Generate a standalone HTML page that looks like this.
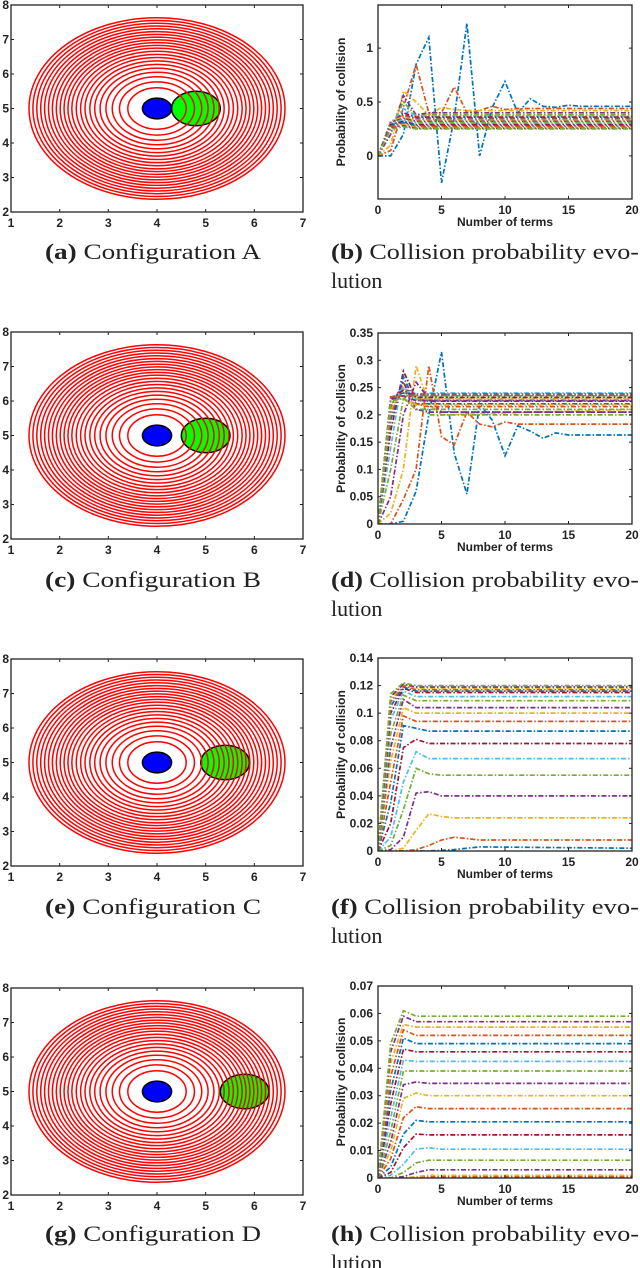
<!DOCTYPE html>
<html><head><meta charset="utf-8"><style>
html,body{margin:0;padding:0;background:#fff;}
svg{display:block;}
.tk{font-family:"Liberation Sans",sans-serif;font-weight:bold;font-size:12px;fill:#222;}
.tl{font-family:"Liberation Sans",sans-serif;font-weight:bold;font-size:12px;fill:#222;}
.cap{font-family:"Liberation Serif",serif;font-size:22px;fill:#222;}
</style></head><body>
<svg id="fig" width="640" height="1268" viewBox="0 0 640 1268" xmlns="http://www.w3.org/2000/svg"></svg>
<script>
// ---------- data ----------
const ringRadii = [0.6,0.77,0.92,1.05,1.17,1.28,1.38,1.48,1.57,1.66,1.75,1.83,1.91,1.99,2.07,2.15,2.23,2.31,2.39,2.47,2.55,2.63];
const configNames = ["A","B","C","D"];
const greenCenters = [4.8,5.0,5.4,5.8];
const blueCenter = [4,5];
const blueRadius = [0.3,0.3];
const greenRadius = [0.5,0.5];
const leftXTicks = [1,2,3,4,5,6,7];
const leftYTicks = [2,3,4,5,6,7,8];
const colors = ["#0072BD","#D95319","#EDB120","#7E2F8E","#77AC30","#4DBEEE","#A2142F"];
const xTicks = [0,5,10,15,20];

// chart A (b)
const aFullX = [0,1,2,3,4,5,6,7,8,9,10,11,12,13,14,15,16,17,18,19,20];
const aShortX = [0,1,2,3,4,20];
const aFullY = [
 [0,0,0.2,0.85,1.1,-0.25,0.35,1.23,0,0.45,0.69,0.4,0.53,0.46,0.45,0.47,0.46,0.46,0.46,0.46,0.46],
 [0,0.05,0.45,0.85,0.4,0.4,0.64,0.4,0.42,0.46,0.43,0.44,0.44,0.44,0.44,0.44,0.44,0.44,0.44,0.44,0.44],
 [0,0.1,0.6,0.5,0.38,0.45,0.43,0.42,0.42,0.42,0.42,0.42,0.42,0.42,0.42,0.42,0.42,0.42,0.42,0.42,0.42]
];
const aShortY = [
 [0,0.2,0.56,0.38,0.4,0.4],[0,0.25,0.5,0.37,0.38,0.38],[0,0.28,0.44,0.37,0.37,0.37],
 [0,0.3,0.4,0.36,0.36,0.36],[0,0.31,0.38,0.35,0.35,0.35],[0,0.32,0.37,0.34,0.34,0.34],
 [0,0.32,0.36,0.33,0.33,0.33],[0,0.31,0.35,0.32,0.32,0.32],[0,0.3,0.34,0.31,0.31,0.31],
 [0,0.3,0.33,0.3,0.3,0.3],[0,0.29,0.32,0.29,0.29,0.29],[0,0.28,0.31,0.28,0.28,0.28],
 [0,0.27,0.3,0.27,0.27,0.27],[0,0.26,0.29,0.26,0.26,0.26],[0,0.26,0.28,0.255,0.255,0.255],
 [0,0.25,0.27,0.25,0.25,0.25]
];
const aYTicks = [0,0.5,1]; const aYLabels = ["0","0.5","1"];

// chart B (d)
const bFullX = [0,1,2,3,4,5,6,7,8,9,10,11,12,13,14,15,16,17,18,19,20];
const bShortX = [0,1,2,3,4,5,20];
const bFullY = [
 [0,0,0.005,0.06,0.2,0.315,0.13,0.055,0.22,0.19,0.125,0.18,0.17,0.157,0.167,0.163,0.163,0.163,0.163,0.163,0.163],
 [0,0,0.045,0.1,0.29,0.16,0.145,0.205,0.183,0.178,0.187,0.183,0.183,0.183,0.183,0.183,0.183,0.183,0.183,0.183,0.183]
];
const bShortY = [
 [0,0.02,0.1,0.29,0.22,0.2,0.21],[0,0.05,0.2,0.26,0.23,0.205,0.205],[0,0.1,0.23,0.24,0.2,0.2,0.2],
 [0,0.14,0.28,0.23,0.24,0.24,0.24],[0,0.17,0.28,0.23,0.225,0.225,0.225],[0,0.19,0.27,0.22,0.22,0.22,0.22],
 [0,0.2,0.26,0.22,0.215,0.215,0.215],[0,0.21,0.25,0.23,0.23,0.23,0.23],[0,0.215,0.26,0.21,0.205,0.205,0.205],
 [0,0.22,0.24,0.235,0.235,0.235,0.235],[0,0.225,0.25,0.228,0.228,0.228,0.228],[0,0.23,0.245,0.232,0.232,0.232,0.232],
 [0,0.232,0.24,0.238,0.238,0.238,0.238],[0,0.233,0.235,0.236,0.236,0.236,0.236],[0,0.225,0.23,0.218,0.218,0.218,0.218],
 [0,0.228,0.235,0.226,0.226,0.226,0.226],[0,0.226,0.23,0.21,0.21,0.21,0.21]
];
const bYTicks = [0,0.05,0.1,0.15,0.2,0.25,0.3,0.35]; const bYLabels = ["0","0.05","0.1","0.15","0.2","0.25","0.3","0.35"];

// chart C (f)
const cX = [0,1,2,3,4,5,6,8,20];
const cY = [
 [0,0,0,0,0,0.0005,0.001,0.003,0.002],[0,0,0,0.001,0.004,0.008,0.01,0.008,0.008],
 [0,0,0.002,0.015,0.027,0.025,0.024,0.024,0.024],[0,0.001,0.01,0.042,0.043,0.04,0.04,0.04,0.04],
 [0,0.004,0.03,0.06,0.056,0.055,0.055,0.055,0.055],[0,0.01,0.05,0.072,0.067,0.067,0.067,0.067,0.067],
 [0,0.02,0.075,0.081,0.078,0.078,0.078,0.078,0.078],[0,0.035,0.091,0.089,0.087,0.087,0.087,0.087,0.087],
 [0,0.05,0.098,0.094,0.094,0.094,0.094,0.094,0.094],[0,0.065,0.104,0.1,0.1,0.1,0.1,0.1,0.1],
 [0,0.075,0.11,0.104,0.104,0.104,0.104,0.104,0.104],[0,0.085,0.113,0.109,0.109,0.109,0.109,0.109,0.109],
 [0,0.095,0.116,0.112,0.112,0.112,0.112,0.112,0.112],[0,0.1,0.118,0.115,0.115,0.115,0.115,0.115,0.115],
 [0,0.105,0.119,0.116,0.116,0.116,0.116,0.116,0.116],[0,0.108,0.12,0.117,0.117,0.117,0.117,0.117,0.117],
 [0,0.11,0.121,0.118,0.118,0.118,0.118,0.118,0.118],[0,0.112,0.121,0.119,0.119,0.119,0.119,0.119,0.119],
 [0,0.114,0.122,0.12,0.12,0.12,0.12,0.12,0.12]
];
const cYTicks = [0,0.02,0.04,0.06,0.08,0.1,0.12,0.14]; const cYLabels = ["0","0.02","0.04","0.06","0.08","0.1","0.12","0.14"];

// chart D (h)
const dX = [0,1,2,3,4,5,20];
const dY = [
 [0,0,0,0,0,0.0002,0.0002],[0,0,0,0.0003,0.0005,0.0005,0.0005],[0,0,0,0.0005,0.001,0.001,0.001],
 [0,0,0.0005,0.002,0.003,0.003,0.003],[0,0,0.002,0.0055,0.0065,0.0065,0.0065],[0,0.001,0.005,0.0105,0.011,0.0105,0.0105],
 [0,0.002,0.011,0.016,0.0157,0.0157,0.0157],[0,0.004,0.016,0.021,0.0205,0.0205,0.0205],[0,0.007,0.022,0.026,0.0253,0.0253,0.0253],
 [0,0.01,0.029,0.031,0.03,0.03,0.03],[0,0.013,0.034,0.035,0.0345,0.0345,0.0345],[0,0.017,0.039,0.039,0.039,0.039,0.039],
 [0,0.022,0.043,0.0425,0.0425,0.0425,0.0425],[0,0.027,0.047,0.046,0.046,0.046,0.046],[0,0.032,0.051,0.049,0.049,0.049,0.049],
 [0,0.037,0.054,0.052,0.052,0.052,0.052],[0,0.042,0.056,0.055,0.055,0.055,0.055],[0,0.046,0.059,0.057,0.057,0.057,0.057],
 [0,0.049,0.061,0.059,0.059,0.059,0.059]
];
const dYTicks = [0,0.01,0.02,0.03,0.04,0.05,0.06,0.07]; const dYLabels = ["0","0.01","0.02","0.03","0.04","0.05","0.06","0.07"];

// ---------- drawing ----------
const NS = "http://www.w3.org/2000/svg";
const fig = document.getElementById('fig');
function el(tag, attrs, parent){ const e=document.createElementNS(NS,tag); for(const k in attrs) e.setAttribute(k,attrs[k]); (parent||fig).appendChild(e); return e; }

const leftTops = [5,332,659,988], leftH = 207, leftL = 11, leftR = 303;
const rightTops = [5,333,658,986], rightBots = [199,524,851,1178], rightL = 378, rightR = 632;
const capY = [259,587,914,1241];
const letters = [["a","b"],["c","d"],["e","f"],["g","h"]];

for(let r=0;r<4;r++){
  const top=leftTops[r], bot=top+leftH;
  const sx = v => leftL + (v-1)*(leftR-leftL)/6;
  const sy = v => bot - (v-2)*leftH/6;
  const g = el('g',{});
  
  
  const gr = el('ellipse',{cx:sx(greenCenters[r]),cy:sy(5),rx:greenRadius[0]*(leftR-leftL)/6,ry:greenRadius[1]*leftH/6,fill:'#00ff00',stroke:'#000','stroke-width':1.5},g);
   
  const bl = el('ellipse',{cx:sx(blueCenter[0]),cy:sy(blueCenter[1]),rx:blueRadius[0]*(leftR-leftL)/6,ry:blueRadius[1]*leftH/6,fill:'#0000ff',stroke:'#000','stroke-width':1.5},g);
   
  ringRadii.forEach(rad=>{
    const e = el('ellipse',{cx:sx(4),cy:sy(5),rx:rad*(leftR-leftL)/6,ry:rad*leftH/6,fill:'none',stroke:'#ff0000','stroke-width':1.5},g);
     
  });
  const box = el('rect',{x:leftL,y:top,width:leftR-leftL,height:leftH,fill:'none',stroke:'#222','stroke-width':1.3},g);
   
  leftXTicks.forEach(t=>{
    el('line',{x1:sx(t),x2:sx(t),y1:bot,y2:bot-3,stroke:'#222'},g);
    el('line',{x1:sx(t),x2:sx(t),y1:top,y2:top+3,stroke:'#222'},g);
    const tx = el('text',{x:sx(t),y:bot+15,'text-anchor':'middle',class:'tl'},g); tx.textContent=t;
     
  });
  leftYTicks.forEach(t=>{
    el('line',{x1:leftL,x2:leftL+3,y1:sy(t),y2:sy(t),stroke:'#222'},g);
    el('line',{x1:leftR,x2:leftR-3,y1:sy(t),y2:sy(t),stroke:'#222'},g);
    const tx = el('text',{x:leftL-2,y:sy(t)+4,'text-anchor':'end',class:'tl'},g); tx.textContent=t;
     
  });
  const cap = el('text',{x:45,y:capY[r],class:'cap',textLength:216,lengthAdjust:'spacingAndGlyphs'});
  
  
  cap.innerHTML = '<tspan font-weight="bold">('+letters[r][0]+')</tspan> Configuration '+configNames[r];
}

function drawChart(r, ymin, ymax, yTicks, yLabels, seriesX, seriesY, colorOffset){
  const top=rightTops[r], bot=rightBots[r];
  const sx = v => rightL + v*(rightR-rightL)/20;
  const sy = v => bot - (v-ymin)*(bot-top)/(ymax-ymin);
  const g = el('g',{});
  
  
  const cid='clip'+r;
  const cp = el('clipPath',{id:cid},g); el('rect',{x:rightL,y:top,width:rightR-rightL,height:bot-top},cp);
  const lg = el('g',{'clip-path':'url(#'+cid+')'},g);
  seriesY.forEach((ys,i)=>{
    const xs = seriesX[i];
    const pts = ys.map((y,j)=>sx(xs[j]).toFixed(1)+','+sy(y).toFixed(1)).join(' ');
    const pl = el('polyline',{points:pts,fill:'none',stroke:colors[(i+colorOffset)%7],'stroke-width':1.7,'stroke-dasharray':'5,2,1.5,2'},lg);
    
    
  });
  const box = el('rect',{x:rightL,y:top,width:rightR-rightL,height:bot-top,fill:'none',stroke:'#222','stroke-width':1.3},g);
   
  xTicks.forEach(t=>{
    el('line',{x1:sx(t),x2:sx(t),y1:bot,y2:bot-3,stroke:'#222'},g);
    el('line',{x1:sx(t),x2:sx(t),y1:top,y2:top+3,stroke:'#222'},g);
    const tx = el('text',{x:sx(t),y:bot+15,'text-anchor':'middle',class:'tk'},g); tx.textContent=t;
     
  });
  yTicks.forEach((t,k)=>{
    el('line',{x1:rightL,x2:rightL+3,y1:sy(t),y2:sy(t),stroke:'#222'},g);
    el('line',{x1:rightR,x2:rightR-3,y1:sy(t),y2:sy(t),stroke:'#222'},g);
    const tx = el('text',{x:rightL-5,y:sy(t)+4,'text-anchor':'end',class:'tk'},g); tx.textContent=yLabels[k];
     
  });
  const xt = el('text',{x:(rightL+rightR)/2,y:bot+27,'text-anchor':'middle',class:'tk'},g); xt.textContent='Number of terms';
   
  const cy=(top+bot)/2;
  const yt = el('text',{x:345,y:cy,'text-anchor':'middle',class:'tk',transform:'rotate(-90 345 '+cy+')'},g); yt.textContent='Probability of collision';
   
  const c1 = el('text',{x:331,y:capY[r],class:'cap',textLength:308,lengthAdjust:'spacingAndGlyphs'});
  c1.innerHTML = '<tspan font-weight="bold">('+letters[r][1]+')</tspan> Collision probability evo-';
   
  const c2 = el('text',{x:331,y:capY[r]+29,class:'cap'}); c2.textContent='lution';
   
}

drawChart(0,-0.4,1.4,aYTicks,aYLabels,[aFullX,aFullX,aFullX].concat(aShortY.map(()=>aShortX)),aFullY.concat(aShortY),0);
drawChart(1,0,0.35,bYTicks,bYLabels,[bFullX,bFullX].concat(bShortY.map(()=>bShortX)),bFullY.concat(bShortY),0);
drawChart(2,0,0.14,cYTicks,cYLabels,cY.map(()=>cX),cY,0);
drawChart(3,0,0.07,dYTicks,dYLabels,dY.map(()=>dX),dY,0);
</script>
</body></html>
